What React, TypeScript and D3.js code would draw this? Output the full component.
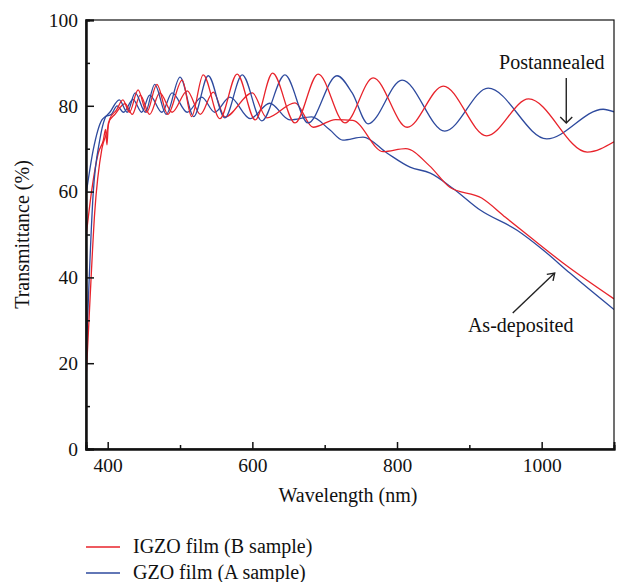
import React, { useEffect, useRef } from 'react';
import * as d3 from 'd3';

// [wavelength nm, transmittance %]
const igzoPost: [number, number][] = [
  [370, 16], [375, 33], [382, 55], [392, 70], [399, 74], [403, 77], [412, 79],
  [421, 81.4], [430, 78.5], [442, 83.7], [454, 78.5], [468, 85], [483, 78],
  [503, 86], [516, 77.5], [532, 87.2], [555, 77], [579, 87.4], [604, 76.7],
  [628, 87.6], [659, 76], [691, 87.4], [728, 76], [767, 86.5], [814, 75],
  [864, 84.6], [924, 73], [982, 81.6], [1063, 69.2], [1100, 71.6],
];

const gzoPost: [number, number][] = [
  [370, 20], [380, 59.7], [389, 72], [396, 77], [403, 78.5], [416, 81.4],
  [427, 78.5], [438, 83], [452, 78.5], [465, 85], [481, 78], [500, 86.7],
  [519, 77.5], [539, 87], [562, 77.2], [586, 87.2], [613, 76.5], [645, 87.2],
  [677, 76], [717, 87], [738, 83], [760, 75.8], [807, 86], [866, 74.1],
  [926, 84.1], [1007, 72.3], [1085, 79.2], [1100, 78.6],
];

const igzoAsDep: [number, number][] = [
  [370, 49.4], [378, 60.4], [387, 69], [394, 72], [397, 74.5], [399, 70.9],
  [401, 76], [410, 78], [424, 80.5], [434, 78], [445, 82.5], [458, 78],
  [472, 83], [489, 78.5], [510, 83.5], [528, 78], [546, 83.2], [562, 77.4],
  [600, 83], [620, 77.2], [659, 80.7], [684, 75], [715, 76.8], [739, 76.6],
  [781, 69.3], [812, 70], [845, 66], [873, 61], [917, 58.5], [950, 54],
  [984, 49.4], [1030, 43.3], [1100, 35],
];

const gzoAsDep: [number, number][] = [
  [370, 59.2], [380, 69.7], [392, 76.7], [396, 77.4], [405, 78], [413, 80],
  [422, 78.5], [435, 81.5], [447, 78.5], [458, 82.5], [475, 78.5], [489, 83],
  [510, 78.5], [530, 82], [548, 78.5], [569, 82], [597, 77], [624, 80.6],
  [652, 76.7], [682, 77.4], [707, 74.4], [725, 72], [753, 72.7], [786, 69],
  [818, 65.7], [846, 64.3], [877, 60.8], [915, 55.7], [966, 51], [1002, 46.4],
  [1039, 41], [1100, 32.5],
];

const xMajor = [400, 600, 800, 1000];
const xMinor = [500, 700, 900];
const yMajor = [0, 20, 40, 60, 80, 100];
const yMinor = [10, 30, 50, 70, 90];

const RED = '#e8232b';
const BLUE = '#2e4a9e';
const FONT = "'Liberation Serif', 'DejaVu Serif', serif";

const App = () => {
  const ref = useRef<SVGSVGElement>(null);

  useEffect(() => {
    const svg = d3.select(ref.current);
    svg.selectAll('*').remove();

    const left = 86, right = 614, top = 20, bottom = 449;
    const x = d3.scaleLinear().domain([370, 1100]).range([left, right]);
    const y = d3.scaleLinear().domain([0, 100]).range([bottom, top]);

    svg.append('defs').append('clipPath').attr('id', 'plot')
      .append('rect').attr('x', left).attr('y', top)
      .attr('width', right - left).attr('height', bottom - top);

    const line = d3.line<[number, number]>()
      .x(d => x(d[0])).y(d => y(d[1]))
      .curve(d3.curveMonotoneX);

    const series = [
      { data: gzoAsDep, color: BLUE },
      { data: igzoAsDep, color: RED },
      { data: gzoPost, color: BLUE },
      { data: igzoPost, color: RED },
    ];
    const g = svg.append('g').attr('clip-path', 'url(#plot)');
    series.forEach(s => {
      g.append('path').attr('d', line(s.data)!)
        .attr('fill', 'none').attr('stroke', s.color).attr('stroke-width', 1.3);
    });

    // frame
    svg.append('rect').attr('x', left).attr('y', top)
      .attr('width', right - left).attr('height', bottom - top)
      .attr('fill', 'none').attr('stroke', '#111').attr('stroke-width', 1.2);

    svg.append('g').attr('transform', `translate(0,${bottom})`)
      .call(d3.axisBottom(x).tickValues(xMajor).tickSize(-7).tickPadding(9).tickFormat(d3.format('d')));
    svg.append('g').attr('transform', `translate(0,${bottom})`)
      .call(d3.axisBottom(x).tickValues(xMinor).tickSize(-4).tickFormat(() => ''));
    svg.append('g').attr('transform', `translate(${left},0)`)
      .call(d3.axisLeft(y).tickValues(yMajor).tickSize(-8).tickPadding(8));
    svg.append('g').attr('transform', `translate(${left},0)`)
      .call(d3.axisLeft(y).tickValues(yMinor).tickSize(-4).tickFormat(() => ''));

    svg.selectAll('.domain').attr('stroke', '#111').attr('stroke-width', 2);
    svg.selectAll('.tick line').attr('stroke', '#111').attr('stroke-width', 1.5);
    svg.selectAll('.tick text')
      .style('font-family', FONT).style('font-size', '19.5px').attr('fill', '#111');

    const label = (txt: string) => svg.append('text')
      .style('font-family', FONT).style('font-size', '20px').attr('fill', '#111').text(txt);

    label('Wavelength (nm)').attr('x', (left + right) / 2 - 2).attr('y', 502)
      .attr('text-anchor', 'middle');
    label('Transmittance (%)')
      .attr('transform', `translate(29,${(top + bottom) / 2}) rotate(-90)`)
      .attr('text-anchor', 'middle');

    // annotations
    const ann = svg.append('g').attr('stroke', '#222').attr('stroke-width', 1.4).attr('fill', 'none');
    const ax = x(1034);
    ann.append('line').attr('x1', ax).attr('x2', ax).attr('y1', y(86.5)).attr('y2', y(76));
    ann.append('path').attr('d', `M${ax - 6},${y(76) - 6}L${ax},${y(76)}L${ax + 6},${y(76) - 6}`);
    const tx = x(1018), ty = y(41), sx = x(960), sy = y(31.7);
    ann.append('line').attr('x1', sx).attr('y1', sy).attr('x2', tx).attr('y2', ty);
    const ang = Math.atan2(ty - sy, tx - sx);
    const hl = 8;
    ann.append('path').attr('d',
      `M${tx - hl * Math.cos(ang - 0.6)},${ty - hl * Math.sin(ang - 0.6)}L${tx},${ty}L${tx - hl * Math.cos(ang + 0.6)},${ty - hl * Math.sin(ang + 0.6)}`);

    label('Postannealed').attr('x', x(1014)).attr('y', y(88.6)).attr('text-anchor', 'middle');
    label('As-deposited').attr('x', x(971)).attr('y', y(27.3)).attr('text-anchor', 'middle');

    // legend
    const legend = [
      { label: 'IGZO film (B sample)', color: RED },
      { label: 'GZO film (A sample)', color: BLUE },
    ];
    legend.forEach((d, i) => {
      const ly = 547 + i * 26;
      svg.append('line').attr('x1', 86).attr('x2', 120).attr('y1', ly).attr('y2', ly)
        .attr('stroke', d.color).attr('stroke-width', 1.3);
      label(d.label).attr('x', 133).attr('y', ly + 6);
    });
  }, []);

  return (
    <svg ref={ref} width={618} height={582}
      style={{ position: 'absolute', left: 0, top: 0, background: '#fff' }} />
  );
};

export default App;
